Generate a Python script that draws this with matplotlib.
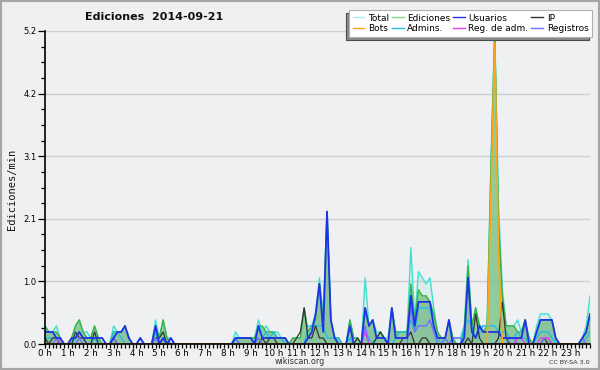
import matplotlib
matplotlib.use("Agg")
import matplotlib.pyplot as plt
import numpy as np
from matplotlib.patches import Rectangle
from matplotlib.lines import Line2D

# 10-minute slots, 6 per hour, values in edits/min
total = [
    0.3, 0.2, 0.2, 0.3, 0.1, 0.0,
    0.0, 0.1, 0.3, 0.4, 0.2, 0.2,
    0.1, 0.3, 0.1, 0.1, 0.0, 0.0,
    0.3, 0.2, 0.2, 0.3, 0.1, 0.0,
    0.0, 0.1, 0.0, 0.0, 0.0, 0.4,
    0.1, 0.4, 0.1, 0.1, 0.0, 0.0,
    0.0, 0.0, 0.0, 0.0, 0.0, 0.0,
    0.0, 0.0, 0.0, 0.0, 0.0, 0.0,
    0.0, 0.0, 0.2, 0.1, 0.1, 0.1,
    0.1, 0.1, 0.4, 0.2, 0.3, 0.2,
    0.2, 0.2, 0.1, 0.1, 0.0, 0.1,
    0.1, 0.1, 0.6, 0.2, 0.3, 0.5,
    1.1, 0.5, 2.2, 0.4, 0.1, 0.1,
    0.0, 0.0, 0.4, 0.1, 0.1, 0.0,
    1.1, 0.3, 0.4, 0.2, 0.2, 0.1,
    0.1, 0.6, 0.2, 0.2, 0.2, 0.2,
    1.6, 0.4, 1.2, 1.1, 1.0, 1.1,
    0.6, 0.2, 0.1, 0.1, 0.4, 0.1,
    0.1, 0.1, 0.3, 1.4, 0.3, 0.6,
    0.3, 0.3, 0.3, 3.0, 5.2, 2.3,
    0.9, 0.3, 0.3, 0.3, 0.4, 0.2,
    0.4, 0.1, 0.0, 0.3, 0.5, 0.5,
    0.5, 0.4, 0.1, 0.0, 0.0, 0.0,
    0.0, 0.0, 0.0, 0.1, 0.3, 0.8,
]

ediciones = [
    0.3, 0.2, 0.2, 0.2, 0.1, 0.0,
    0.0, 0.1, 0.3, 0.4, 0.2, 0.1,
    0.1, 0.3, 0.1, 0.0, 0.0, 0.0,
    0.2, 0.2, 0.2, 0.3, 0.1, 0.0,
    0.0, 0.0, 0.0, 0.0, 0.0, 0.3,
    0.1, 0.4, 0.1, 0.0, 0.0, 0.0,
    0.0, 0.0, 0.0, 0.0, 0.0, 0.0,
    0.0, 0.0, 0.0, 0.0, 0.0, 0.0,
    0.0, 0.0, 0.1, 0.1, 0.1, 0.1,
    0.1, 0.1, 0.3, 0.3, 0.2, 0.2,
    0.2, 0.1, 0.1, 0.1, 0.0, 0.1,
    0.1, 0.1, 0.6, 0.2, 0.3, 0.4,
    1.0, 0.4, 2.2, 0.4, 0.1, 0.1,
    0.0, 0.0, 0.4, 0.1, 0.1, 0.0,
    0.6, 0.3, 0.4, 0.1, 0.2, 0.1,
    0.0, 0.6, 0.2, 0.2, 0.2, 0.2,
    1.0, 0.4, 0.9, 0.8, 0.8, 0.7,
    0.5, 0.2, 0.1, 0.1, 0.4, 0.1,
    0.0, 0.0, 0.2, 1.3, 0.3, 0.6,
    0.3, 0.2, 0.3, 2.9, 5.2, 2.0,
    0.8, 0.3, 0.3, 0.3, 0.2, 0.2,
    0.4, 0.1, 0.0, 0.2, 0.4, 0.4,
    0.4, 0.4, 0.1, 0.0, 0.0, 0.0,
    0.0, 0.0, 0.0, 0.1, 0.2, 0.5,
]

usuarios = [
    0.2, 0.2, 0.2, 0.1, 0.1, 0.0,
    0.0, 0.1, 0.1, 0.2, 0.1, 0.1,
    0.1, 0.1, 0.1, 0.1, 0.0, 0.0,
    0.1, 0.2, 0.2, 0.3, 0.1, 0.0,
    0.0, 0.1, 0.0, 0.0, 0.0, 0.3,
    0.0, 0.1, 0.0, 0.1, 0.0, 0.0,
    0.0, 0.0, 0.0, 0.0, 0.0, 0.0,
    0.0, 0.0, 0.0, 0.0, 0.0, 0.0,
    0.0, 0.0, 0.1, 0.1, 0.1, 0.1,
    0.1, 0.0, 0.3, 0.1, 0.1, 0.1,
    0.1, 0.1, 0.1, 0.1, 0.0, 0.0,
    0.0, 0.0, 0.0, 0.1, 0.2, 0.5,
    1.0, 0.2, 2.2, 0.4, 0.1, 0.0,
    0.0, 0.0, 0.3, 0.0, 0.0, 0.0,
    0.6, 0.3, 0.4, 0.1, 0.1, 0.1,
    0.0, 0.6, 0.1, 0.1, 0.1, 0.1,
    0.8, 0.3, 0.7, 0.7, 0.7, 0.7,
    0.3, 0.1, 0.1, 0.1, 0.4, 0.0,
    0.0, 0.0, 0.1, 1.1, 0.2, 0.1,
    0.3, 0.2, 0.2, 0.2, 0.2, 0.2,
    0.1, 0.1, 0.1, 0.1, 0.1, 0.1,
    0.4, 0.0, 0.0, 0.2, 0.4, 0.4,
    0.4, 0.4, 0.1, 0.0, 0.0, 0.0,
    0.0, 0.0, 0.0, 0.1, 0.2, 0.5,
]

ip = [
    0.1, 0.0, 0.1, 0.1, 0.0, 0.0,
    0.0, 0.0, 0.2, 0.1, 0.1, 0.0,
    0.0, 0.2, 0.0, 0.0, 0.0, 0.0,
    0.1, 0.0, 0.0, 0.0, 0.0, 0.0,
    0.0, 0.0, 0.0, 0.0, 0.0, 0.1,
    0.1, 0.2, 0.0, 0.0, 0.0, 0.0,
    0.0, 0.0, 0.0, 0.0, 0.0, 0.0,
    0.0, 0.0, 0.0, 0.0, 0.0, 0.0,
    0.0, 0.0, 0.0, 0.0, 0.0, 0.0,
    0.0, 0.0, 0.0, 0.1, 0.0, 0.1,
    0.1, 0.0, 0.0, 0.0, 0.0, 0.0,
    0.1, 0.2, 0.6, 0.1, 0.1, 0.3,
    0.1, 0.1, 0.0, 0.0, 0.0, 0.0,
    0.0, 0.0, 0.0, 0.0, 0.1, 0.0,
    0.0, 0.0, 0.0, 0.1, 0.2, 0.1,
    0.0, 0.0, 0.0, 0.0, 0.1, 0.1,
    0.2, 0.0, 0.0, 0.1, 0.1, 0.0,
    0.0, 0.0, 0.0, 0.0, 0.0, 0.0,
    0.0, 0.0, 0.0, 0.1, 0.0, 0.5,
    0.1, 0.0, 0.0, 0.0, 0.0, 0.1,
    0.7, 0.1, 0.0, 0.0, 0.0, 0.0,
    0.0, 0.0, 0.0, 0.0, 0.0, 0.1,
    0.0, 0.0, 0.0, 0.0, 0.0, 0.0,
    0.0, 0.0, 0.0, 0.0, 0.0, 0.0,
]

bots = [
    0.0, 0.0, 0.0, 0.0, 0.0, 0.0,
    0.0, 0.0, 0.0, 0.0, 0.0, 0.0,
    0.0, 0.0, 0.0, 0.0, 0.0, 0.0,
    0.0, 0.0, 0.0, 0.0, 0.0, 0.0,
    0.0, 0.0, 0.0, 0.0, 0.0, 0.0,
    0.0, 0.0, 0.0, 0.0, 0.0, 0.0,
    0.0, 0.0, 0.0, 0.0, 0.0, 0.0,
    0.0, 0.0, 0.0, 0.0, 0.0, 0.0,
    0.0, 0.0, 0.0, 0.0, 0.0, 0.0,
    0.0, 0.0, 0.0, 0.0, 0.0, 0.0,
    0.0, 0.0, 0.0, 0.0, 0.0, 0.0,
    0.0, 0.0, 0.0, 0.0, 0.0, 0.0,
    0.0, 0.0, 0.0, 0.0, 0.0, 0.0,
    0.0, 0.0, 0.0, 0.0, 0.0, 0.0,
    0.0, 0.0, 0.0, 0.0, 0.0, 0.0,
    0.0, 0.0, 0.0, 0.0, 0.0, 0.0,
    0.0, 0.0, 0.0, 0.0, 0.0, 0.0,
    0.0, 0.0, 0.0, 0.0, 0.0, 0.0,
    0.0, 0.0, 0.0, 0.0, 0.0, 0.0,
    0.0, 0.0, 0.0, 2.5, 5.0, 1.5,
    0.0, 0.0, 0.0, 0.0, 0.0, 0.0,
    0.0, 0.0, 0.0, 0.0, 0.0, 0.0,
    0.0, 0.0, 0.0, 0.0, 0.0, 0.0,
    0.0, 0.0, 0.0, 0.0, 0.0, 0.0,
]

admins = [
    0.1, 0.1, 0.1, 0.1, 0.0, 0.0,
    0.0, 0.0, 0.1, 0.2, 0.1, 0.0,
    0.0, 0.1, 0.0, 0.0, 0.0, 0.0,
    0.2, 0.2, 0.1, 0.0, 0.0, 0.0,
    0.0, 0.0, 0.0, 0.0, 0.0, 0.2,
    0.0, 0.1, 0.0, 0.0, 0.0, 0.0,
    0.0, 0.0, 0.0, 0.0, 0.0, 0.0,
    0.0, 0.0, 0.0, 0.0, 0.0, 0.0,
    0.0, 0.0, 0.1, 0.0, 0.0, 0.0,
    0.0, 0.0, 0.3, 0.1, 0.2, 0.1,
    0.2, 0.1, 0.1, 0.0, 0.0, 0.0,
    0.0, 0.0, 0.0, 0.3, 0.3, 0.3,
    0.3, 0.3, 0.1, 0.1, 0.1, 0.1,
    0.0, 0.0, 0.1, 0.0, 0.0, 0.0,
    0.2, 0.1, 0.0, 0.1, 0.1, 0.1,
    0.0, 0.0, 0.1, 0.2, 0.2, 0.2,
    0.4, 0.2, 0.6, 0.6, 0.6, 0.6,
    0.3, 0.1, 0.0, 0.0, 0.0, 0.0,
    0.0, 0.0, 0.3, 0.4, 0.3, 0.1,
    0.2, 0.3, 0.3, 0.3, 0.3, 0.2,
    0.2, 0.2, 0.1, 0.1, 0.2, 0.1,
    0.1, 0.0, 0.0, 0.1, 0.2, 0.2,
    0.2, 0.1, 0.0, 0.0, 0.0, 0.0,
    0.0, 0.0, 0.0, 0.0, 0.1, 0.2,
]

reg_adm = [
    0.0, 0.0, 0.0, 0.0, 0.1, 0.0,
    0.0, 0.0, 0.0, 0.0, 0.0, 0.0,
    0.0, 0.0, 0.0, 0.0, 0.0, 0.0,
    0.0, 0.0, 0.0, 0.0, 0.0, 0.0,
    0.0, 0.0, 0.0, 0.0, 0.0, 0.0,
    0.0, 0.0, 0.0, 0.0, 0.0, 0.0,
    0.0, 0.0, 0.0, 0.0, 0.0, 0.0,
    0.0, 0.0, 0.0, 0.0, 0.0, 0.0,
    0.0, 0.0, 0.0, 0.0, 0.0, 0.0,
    0.0, 0.0, 0.0, 0.0, 0.0, 0.0,
    0.0, 0.0, 0.0, 0.0, 0.0, 0.0,
    0.0, 0.0, 0.0, 0.0, 0.0, 0.0,
    0.0, 0.0, 0.0, 0.0, 0.0, 0.0,
    0.0, 0.0, 0.0, 0.0, 0.0, 0.0,
    0.2, 0.0, 0.0, 0.0, 0.0, 0.0,
    0.0, 0.0, 0.0, 0.0, 0.0, 0.0,
    0.0, 0.0, 0.0, 0.0, 0.0, 0.0,
    0.0, 0.0, 0.0, 0.0, 0.0, 0.0,
    0.0, 0.0, 0.0, 0.0, 0.0, 0.0,
    0.0, 0.0, 0.0, 0.0, 0.0, 0.0,
    0.0, 0.0, 0.0, 0.0, 0.1, 0.1,
    0.0, 0.0, 0.0, 0.0, 0.1, 0.1,
    0.1, 0.0, 0.0, 0.0, 0.0, 0.0,
    0.0, 0.0, 0.0, 0.0, 0.0, 0.0,
]

registros = [
    0.0, 0.0, 0.0, 0.1, 0.0, 0.0,
    0.0, 0.0, 0.0, 0.1, 0.0, 0.0,
    0.0, 0.0, 0.0, 0.0, 0.0, 0.0,
    0.1, 0.0, 0.0, 0.0, 0.0, 0.0,
    0.0, 0.1, 0.0, 0.0, 0.0, 0.1,
    0.0, 0.1, 0.0, 0.1, 0.0, 0.0,
    0.0, 0.0, 0.0, 0.0, 0.0, 0.0,
    0.0, 0.0, 0.0, 0.0, 0.0, 0.0,
    0.0, 0.0, 0.1, 0.0, 0.0, 0.0,
    0.0, 0.0, 0.1, 0.0, 0.0, 0.0,
    0.0, 0.0, 0.0, 0.0, 0.0, 0.0,
    0.0, 0.0, 0.0, 0.0, 0.0, 0.0,
    0.0, 0.0, 0.0, 0.0, 0.0, 0.0,
    0.0, 0.0, 0.0, 0.0, 0.0, 0.0,
    0.3, 0.0, 0.0, 0.0, 0.0, 0.0,
    0.0, 0.0, 0.0, 0.0, 0.0, 0.0,
    0.6, 0.2, 0.3, 0.3, 0.3, 0.4,
    0.2, 0.0, 0.0, 0.1, 0.0, 0.1,
    0.1, 0.1, 0.0, 0.0, 0.0, 0.0,
    0.0, 0.0, 0.0, 0.0, 0.0, 0.0,
    0.0, 0.0, 0.1, 0.1, 0.0, 0.0,
    0.0, 0.0, 0.0, 0.0, 0.0, 0.1,
    0.1, 0.0, 0.0, 0.0, 0.0, 0.0,
    0.0, 0.0, 0.0, 0.1, 0.0, 0.0,
]

hour_labels = ["%d h" % h for h in range(24)]
y_max = 5.2
title = "Ediciones  2014-09-21"

BG = "#eff0f1"
C_TOTAL = "#40e0d0"
C_EDIC = "#3cb043"
C_USU = "#1f33e6"
C_IP = "#333333"
C_BOTS = "#ffa41c"
C_ADM = "#22bde6"
C_REGADM = "#e040f0"
C_REG = "#7070ff"

fig = plt.figure(figsize=(6, 3.7), dpi=100, facecolor=BG)
ax = fig.add_axes([45 / 600, 26 / 370, 545 / 600, 313 / 370])
ax.set_facecolor(BG)

x = np.arange(len(total))
ax.fill_between(x, total, color=C_TOTAL, alpha=0.13, lw=0, zorder=2)
ax.fill_between(x, ediciones, color="#74c07a", alpha=0.72, lw=0, zorder=3)
ax.fill_between(x, usuarios, color="#3050d0", alpha=0.06, lw=0, zorder=3)

ax.plot(x, total, color=C_TOTAL, lw=1.0, zorder=4)
ax.plot(x, ediciones, color=C_EDIC, lw=1.0, zorder=4)
ax.plot(x, admins, color=C_ADM, lw=1.0, zorder=5)
ax.plot(x, ip, color=C_IP, lw=0.9, zorder=5)
ax.plot(x, registros, color=C_REG, lw=1.0, zorder=5)
ax.plot(x, reg_adm, color=C_REGADM, lw=1.0, zorder=5)
ax.plot(x, usuarios, color=C_USU, lw=1.3, zorder=6)
ax.plot(x, bots, color=C_BOTS, lw=1.2, zorder=7)

ax.set_xlim(0, len(total) - 1)
ax.set_ylim(0, y_max)
ax.set_xticks(np.arange(0, len(total), 6))
ax.set_xticklabels(hour_labels)
ax.set_xticks(np.arange(0, len(total)), minor=True)
yt = np.linspace(0, y_max, 6)
ax.set_yticks(yt)
ax.set_yticklabels(["%.1f" % v for v in yt])
ax.set_yticks(np.arange(0, y_max + 0.01, y_max / 20), minor=True)

ax.grid(axis="y", which="major", color="#cfcfcf", lw=1.0, zorder=0)
ax.set_axisbelow(True)
for s in ("top", "right"):
    ax.spines[s].set_visible(False)
for s in ("left", "bottom"):
    ax.spines[s].set_color("black")
    ax.spines[s].set_linewidth(1.2)
    ax.spines[s].set_zorder(8)

ax.tick_params(axis="x", which="both", direction="out", length=3, width=0.9,
               labelsize=6.3, pad=0.5, colors="black")
ax.tick_params(axis="y", which="major", direction="out", length=5, width=0.9,
               labelsize=6, pad=1)
ax.tick_params(axis="y", which="minor", direction="out", length=3, width=0.9)

fig.text(154 / 600, 1 - 17 / 370, title, ha="center", va="center",
         fontsize=8, fontweight="bold", color="#111111")
fig.text(12 / 600, 1 - 189 / 370, "Ediciones/min", rotation=90, ha="center",
         va="center", fontsize=7.5, family="DejaVu Sans Mono", color="#111111")
fig.text(300 / 600, 1 - 361 / 370, "wikiscan.org", ha="center", va="center",
         fontsize=5.8, color="#333333")
fig.text(590 / 600, 1 - 362 / 370, "CC BY-SA 3.0", ha="right", va="center",
         fontsize=4.6, color="#333333")

# legend (column-major order so rows read Total/Ediciones/Usuarios/IP)
def h(c):
    return Line2D([], [], color=c, lw=1.0)

handles = [h("#a8f0ec"), h(C_BOTS), h("#7fdc7f"), h(C_ADM),
           h(C_USU), h(C_REGADM), h(C_IP), h(C_REG)]
labels = ["Total", "Bots", "Ediciones", "Admins.",
          "Usuarios", "Reg. de adm.", "IP", "Registros"]
leg = fig.legend(handles, labels, ncol=4, loc="upper right",
                 bbox_to_anchor=(592 / 600, 1 - 10 / 370), fontsize=6.5,
                 frameon=True, fancybox=False,
                 shadow={"ox": -2, "oy": -2, "facecolor": "#8a8a8a", "alpha": 1.0},
                 handlelength=1.3, handletextpad=0.4, columnspacing=0.3,
                 labelspacing=0.2, borderpad=0.4, borderaxespad=0)
leg.get_frame().set_facecolor("white")
leg.get_frame().set_edgecolor("#b0b0b0")
leg.get_frame().set_linewidth(0.8)

fig.patches.append(Rectangle((0, 0), 1, 1, transform=fig.transFigure,
                             fill=False, edgecolor="#a5a5a5", lw=3))

fig.savefig("out.png", dpi=100, facecolor=fig.get_facecolor())
